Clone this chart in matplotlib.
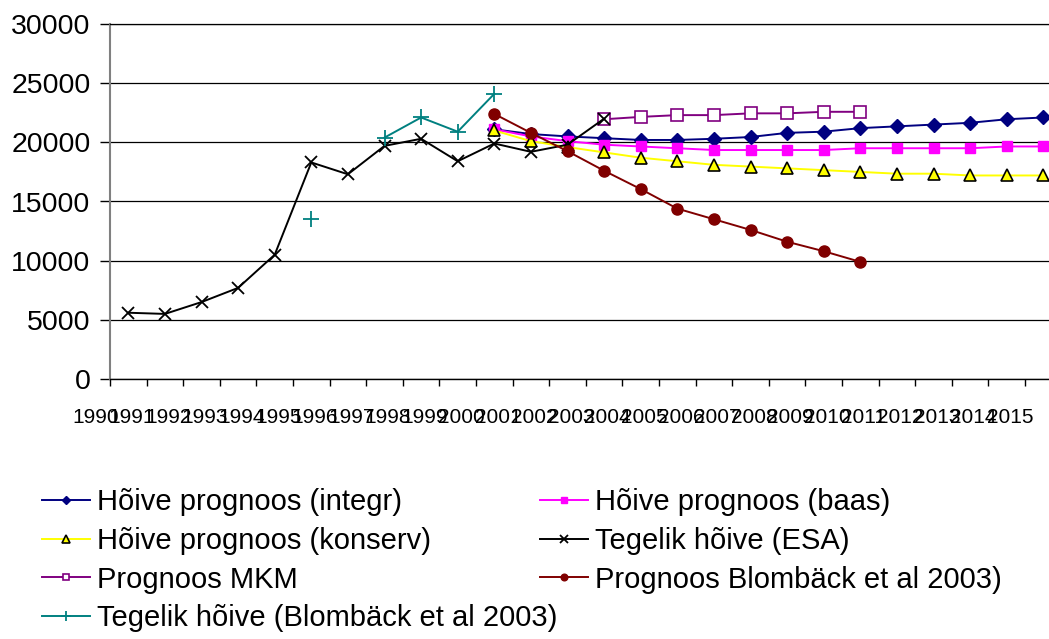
"""
Employment forecasts vs actual employment, 1990-2015.
Line chart with seven series, Excel-like styling.
"""

import matplotlib

matplotlib.use("Agg")
import matplotlib.pyplot as plt
import matplotlib.transforms as mtransforms
import numpy as np

plt.rcParams["font.family"] = ["Liberation Sans", "DejaVu Sans"]

# === DATA ===

YEAR_LABELS = [
    "1990", "1991", "1992", "1993", "1994", "1995", "1996", "1997", "1998",
    "1999", "2000", "2001", "2002", "2003", "2004", "2005", "2006", "2007",
    "2008", "2009", "2010", "2011", "2012", "2013", "2014", "2015",
]

# each series starts at the given year and runs on yearly
INTEGR_START = "2000"
INTEGR = [21100, 20700, 20500, 20350, 20200, 20200, 20300, 20450,
          20800, 20900, 21200, 21350, 21500, 21650, 21950, 22100]

BAAS_START = "2000"
BAAS = [21100, 20500, 20100, 19800, 19650, 19500, 19350, 19350,
        19350, 19350, 19500, 19500, 19500, 19500, 19650, 19650]

KONSERV_START = "2000"
KONSERV = [21000, 20100, 19600, 19150, 18700, 18400, 18100, 17950,
           17800, 17650, 17500, 17350, 17350, 17200, 17200, 17200]

ESA_START = "1990"
ESA = [5600, 5500, 6500, 7700, 10500, 18300, 17300, 19700,
       20300, 18400, 19900, 19200, 19800, 22000]

MKM_START = "2003"
MKM = [21950, 22150, 22300, 22300, 22450, 22450, 22580, 22580]

BLOM_PROG_START = "2000"
BLOM_PROG = [22400, 20800, 19250, 17600, 16050, 14400, 13500, 12600,
             11600, 10800, 9900]

BLOM_ACT_START = "1995"
BLOM_ACT = [13500, np.nan, 20400, 22100, 20900, 24100]

LABEL_INTEGR = "Hõive prognoos (integr)"
LABEL_BAAS = "Hõive prognoos (baas)"
LABEL_KONSERV = "Hõive prognoos (konserv)"
LABEL_ESA = "Tegelik hõive (ESA)"
LABEL_MKM = "Prognoos MKM"
LABEL_BLOM_PROG = "Prognoos Blombäck et al 2003)"
LABEL_BLOM_ACT = "Tegelik hõive (Blombäck et al 2003)"


def positions(start, values):
    first = YEAR_LABELS.index(start)
    return np.arange(first, first + len(values))


# === FIGURE ===

W, H = 1049, 639
fig = plt.figure(figsize=(W / 100, H / 100), dpi=100)
# plot area runs a little past the right edge of the picture, as in the original
ax = fig.add_axes([110 / W, 1 - 379 / H, 951.6 / W, 355 / H])

lw = 1.4
h_integr, = ax.plot(positions(INTEGR_START, INTEGR), INTEGR, color="#000080",
                    lw=lw, marker="D", ms=7, mfc="#000080", mec="#000080",
                    label=LABEL_INTEGR)
h_baas, = ax.plot(positions(BAAS_START, BAAS), BAAS, color="#FF00FF",
                  lw=lw, marker="s", ms=7.5, mfc="#FF00FF", mec="#FF00FF",
                  label=LABEL_BAAS)
h_konserv, = ax.plot(positions(KONSERV_START, KONSERV), KONSERV,
                     color="#FFFF00", lw=lw, marker="^", ms=8.5,
                     mfc="#FFFF00", mec="black", mew=1.2,
                     label=LABEL_KONSERV)
h_mkm, = ax.plot(positions(MKM_START, MKM), MKM, color="#800080", lw=lw,
                 marker="s", ms=8, mfc="white", mec="#800080", mew=1.2,
                 label=LABEL_MKM)
h_esa, = ax.plot(positions(ESA_START, ESA), ESA, color="black", lw=lw,
                 marker="x", ms=9, mew=1.3, label=LABEL_ESA)
h_prog, = ax.plot(positions(BLOM_PROG_START, BLOM_PROG), BLOM_PROG,
                  color="#800000", lw=lw, marker="o", ms=8, mfc="#800000",
                  mec="#800000", label=LABEL_BLOM_PROG)
h_act, = ax.plot(positions(BLOM_ACT_START, BLOM_ACT), BLOM_ACT,
                 color="#008080", lw=lw, marker="+", ms=11, mew=1.3,
                 label=LABEL_BLOM_ACT)

# --- axes ---
ax.set_xlim(-0.5, len(YEAR_LABELS) - 0.5)
ax.set_ylim(0, 30000)
ax.set_yticks(np.arange(0, 30001, 5000))
ax.yaxis.grid(True, color="black", lw=0.9)
ax.set_axisbelow(True)

ax.spines["right"].set_visible(False)
ax.spines["top"].set_color("black")
ax.spines["top"].set_linewidth(0.9)
ax.spines["left"].set_color("#808080")
ax.spines["left"].set_linewidth(1.5)
ax.spines["bottom"].set_color("black")
ax.spines["bottom"].set_linewidth(1.0)

ax.tick_params(axis="y", direction="out", length=7, width=1, pad=7,
               labelsize=20.5, color="black")

# labels on the categories (shifted left like the original), tick marks
# between categories as minor ticks
ax.set_xticks(np.arange(len(YEAR_LABELS)))
ax.set_xticklabels(YEAR_LABELS)
ax.set_xticks(np.arange(-0.5, len(YEAR_LABELS), 1), minor=True)
ax.tick_params(axis="x", which="major", length=0, pad=21, labelsize=15)
ax.tick_params(axis="x", which="minor", direction="out", length=5, width=1)
shift = mtransforms.ScaledTranslation(-0.33, 0, fig.dpi_scale_trans)
for lab in ax.get_xticklabels():
    lab.set_transform(lab.get_transform() + shift)

# --- legend: two columns, placed separately like the original ---
leg_kw = dict(loc="upper left", frameon=False, fontsize=21,
              handlelength=1.65, handletextpad=0.25, labelspacing=0.37,
              borderpad=0, borderaxespad=0, markerscale=0.6)
fig.legend(handles=[h_integr, h_konserv, h_mkm, h_act],
           bbox_to_anchor=(42 / W, 1 - 488 / H), **leg_kw)
fig.legend(handles=[h_baas, h_esa, h_prog],
           bbox_to_anchor=(540 / W, 1 - 488 / H), **leg_kw)

fig.savefig("out.png", dpi=100)
